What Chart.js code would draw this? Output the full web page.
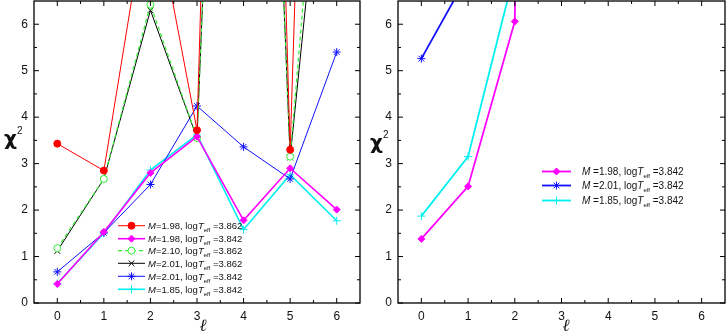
<!DOCTYPE html>
<html>
<head>
<meta charset="utf-8">
<script src="https://cdn.jsdelivr.net/npm/chart.js@4/dist/chart.umd.min.js"></script>
<style>
  html, body { margin: 0; padding: 0; background: #fff; }
  #wrap { position: relative; width: 727px; height: 334px; overflow: hidden; }
  canvas { position: absolute; top: 0; }
  #c1 { left: 0; }
  #c2 { left: 361px; }
</style>
</head>
<body>
<div id="wrap">
  <canvas id="c1" width="361" height="334"></canvas>
  <canvas id="c2" width="366" height="334"></canvas>
</div>
<script>
// degree l on x, chi^2 on y (clipped at 6.5 like the original)
const ells = [0, 1, 2, 3, 4, 5, 6];
const xTicks = [0, 1, 2, 3, 4, 5, 6];
const xMinor = [0.5, 1.5, 2.5, 3.5, 4.5, 5.5];
const yTicks = [0, 1, 2, 3, 4, 5, 6];
const yMinor = [0.5, 1.5, 2.5, 3.5, 4.5, 5.5];

// left panel
const leftMass = ['1.98', '1.98', '2.10', '2.01', '2.01', '1.85'];
const leftTeff = ['3.862', '3.842', '3.862', '3.862', '3.842', '3.842'];
const red198 = [3.43, 2.85, 9.0, 3.72, 38, 3.30, 35];
const pink198 = [0.41, 1.53, 2.80, 3.58, 1.78, 2.90, 2.01];
const green210 = [1.18, 2.67, 6.42, 3.55, 28, 3.15, 15];
const black201 = [1.12, 2.67, 6.30, 3.55, 28, 3.13, 13];
const blue201 = [0.67, 1.51, 2.55, 4.24, 3.36, 2.67, 5.40];
const cyan185 = [0.42, 1.50, 2.86, 3.62, 1.58, 2.76, 1.77];

// right panel
const rightMass = ['1.98', '2.01', '1.85'];
const rightTeff = ['3.842', '3.842', '3.842'];
const pinkR = [1.38, 2.51, 6.06, 80, null, null, null];
const blueR = [5.26, 7.06, null, null, null, null, null];
const cyanR = [1.87, 3.15, 7.14, null, null, null, null];

const FAM = '"Liberation Sans", Arial, sans-serif';

function series(label, vals, color, style, extra) {
  return Object.assign({
    label,
    data: ells.map((x, i) => ({ x, y: vals[i] })),
    borderColor: color,
    backgroundColor: color,
    pointBackgroundColor: color,
    pointBorderColor: color,
    pointStyle: style,
    pointRadius: 3.5,
    pointBorderWidth: 1,
    borderWidth: 1,
    tension: 0,
  }, extra || {});
}

function drawLabel(ctx, x, y, mass, teff, size, gap) {
  const parts = [
    { t: 'M', f: `italic ${size}px ${FAM}`, dy: 0 },
    { t: gap + '=' + mass + ', log', f: `${size}px ${FAM}`, dy: 0 },
    { t: 'T', f: `italic ${size}px ${FAM}`, dy: 0 },
    { t: 'eff', f: `${Math.round(size * 0.62)}px ${FAM}`, dy: size * 0.33 },
    { t: ' =' + teff, f: `${size}px ${FAM}`, dy: 0 },
  ];
  ctx.textBaseline = 'alphabetic';
  ctx.textAlign = 'left';
  ctx.fillStyle = '#111';
  const base = y + size * 0.36;
  for (const p of parts) {
    ctx.font = p.f;
    ctx.fillText(p.t, x, base + p.dy);
    x += ctx.measureText(p.t).width;
  }
}

const framePlugin = {
  id: 'frame',
  afterDatasetsDraw(chart, args, o) {
    const { ctx } = chart;
    const { left, right, top, bottom } = chart.chartArea;
    const xs = chart.scales.x, ys = chart.scales.y;
    ctx.save();
    ctx.strokeStyle = '#000';
    ctx.lineWidth = 1;
    const tick = (vals, len) => {
      for (const v of vals) {
        const px = xs.getPixelForValue(v);
        ctx.beginPath();
        ctx.moveTo(px, bottom); ctx.lineTo(px, bottom - len);
        ctx.moveTo(px, top); ctx.lineTo(px, top + len);
        ctx.stroke();
      }
    };
    const tickY = (vals, len) => {
      for (const v of vals) {
        const py = ys.getPixelForValue(v);
        ctx.beginPath();
        ctx.moveTo(left, py); ctx.lineTo(left + len, py);
        ctx.moveTo(right, py); ctx.lineTo(right - len, py);
        ctx.stroke();
      }
    };
    tick(xTicks, 5); tick(xMinor, 3);
    tickY(yTicks, 5); tickY(yMinor, 3);
    ctx.lineWidth = 1.3;
    ctx.strokeRect(left, top, right - left, bottom - top);

    // legend inside the plot
    const lg = o.legend;
    lg.rows.forEach((row) => {
      const ds = chart.data.datasets[row.i];
      ctx.save();
      ctx.strokeStyle = ds.borderColor;
      ctx.lineWidth = ds.borderWidth;
      ctx.setLineDash(ds.borderDash || []);
      ctx.beginPath();
      ctx.moveTo(lg.x0, row.y); ctx.lineTo(lg.x1, row.y);
      ctx.stroke();
      ctx.setLineDash([]);
      ctx.fillStyle = ds.pointBackgroundColor;
      ctx.strokeStyle = ds.pointBorderColor;
      ctx.lineWidth = ds.pointBorderWidth;
      Chart.helpers.drawPoint(ctx, {
        pointStyle: ds.pointStyle, radius: ds.pointRadius,
        borderWidth: ds.pointBorderWidth, rotation: 0,
      }, (lg.x0 + lg.x1) / 2, row.y);
      ctx.restore();
      drawLabel(ctx, lg.tx, row.y, row.m, row.t, lg.size, lg.gap);
    });

    // axis titles
    ctx.fillStyle = '#111';
    ctx.textBaseline = 'alphabetic';
    ctx.textAlign = 'left';
    ctx.font = `bold 20px "DejaVu Sans", sans-serif`;
    ctx.fillText('\u03c7', o.chi.x, o.chi.y);
    ctx.font = `10px ${FAM}`;
    ctx.fillText('2', o.chi.x + 13, o.chi.y - 11);
    ctx.font = `italic 17px "DejaVu Serif", serif`;
    ctx.textAlign = 'center';
    ctx.fillText('\u2113', o.ell.x, o.ell.y);
    ctx.restore();
  },
};

function panelOptions(yWidth, padRight, frame) {
  const tickFont = { family: FAM, size: 12 };
  return {
    responsive: false,
    animation: false,
    layout: { autoPadding: false, padding: { top: 1, right: padRight, left: 0, bottom: 0 } },
    plugins: { legend: { display: false }, tooltip: { enabled: false }, frame },
    scales: {
      x: {
        type: 'linear', min: -0.5, max: 6.5,
        grid: { display: false, drawTicks: false }, border: { display: false },
        afterBuildTicks: (s) => { s.ticks = xTicks.map((v) => ({ value: v })); },
        afterFit: (s) => { s.height = 31; s.paddingLeft = 0; s.paddingRight = 0; },
        ticks: { padding: 6, color: '#111', font: tickFont, autoSkip: false, maxRotation: 0 },
      },
      y: {
        type: 'linear', min: 0, max: 6.5,
        grid: { display: false, drawTicks: false }, border: { display: false },
        afterBuildTicks: (s) => { s.ticks = yTicks.map((v) => ({ value: v })); },
        afterFit: (s) => { s.width = yWidth; s.paddingTop = 0; s.paddingBottom = 0; },
        ticks: { padding: 6, color: '#111', font: tickFont },
      },
    },
  };
}

const leftSets = [
  series('red', red198, '#ff0000', 'circle'),
  series('pink', pink198, '#ff00ff', 'rectRot', { borderWidth: 1.6 }),
  series('green', green210, '#33ee33', 'circle', { pointBackgroundColor: '#fff', borderDash: [4, 3], borderWidth: 1.2 }),
  series('black', black201, '#000000', 'crossRot', { pointRadius: 4 }),
  series('blue', blue201, '#1010ff', 'star', { pointRadius: 4 }),
  series('cyan', cyan185, '#00f0f0', 'cross', { pointRadius: 4, borderWidth: 1.6 }),
];

new Chart(document.getElementById('c1'), {
  type: 'line',
  data: { datasets: leftSets },
  options: panelOptions(34, 1, {
    legend: {
      x0: 118, x1: 145, tx: 148, size: 9.5, gap: '',
      rows: [225.7, 238.7, 250.7, 263.3, 276.3, 289.3].map((y, i) => ({ i, y, m: leftMass[i], t: leftTeff[i] })),
    },
    chi: { x: 4, y: 145 },
    ell: { x: 203, y: 331 },
  }),
  plugins: [framePlugin],
});

const rightSets = [
  series('pink', pinkR, '#ff00ff', 'rectRot', { borderWidth: 1.8 }),
  series('blue', blueR, '#1010ff', 'star', { pointRadius: 4, borderWidth: 1.8 }),
  series('cyan', cyanR, '#00f0f0', 'cross', { pointRadius: 4, borderWidth: 1.8 }),
];

new Chart(document.getElementById('c2'), {
  type: 'line',
  data: { datasets: rightSets },
  options: panelOptions(37, 2, {
    legend: {
      x0: 181, x1: 210, tx: 221, size: 10, gap: ' ',
      rows: [171.5, 185.5, 200.5].map((y, i) => ({ i, y, m: rightMass[i], t: rightTeff[i] })),
    },
    chi: { x: 9, y: 149 },
    ell: { x: 205, y: 331 },
  }),
  plugins: [framePlugin],
});
</script>
</body>
</html>
